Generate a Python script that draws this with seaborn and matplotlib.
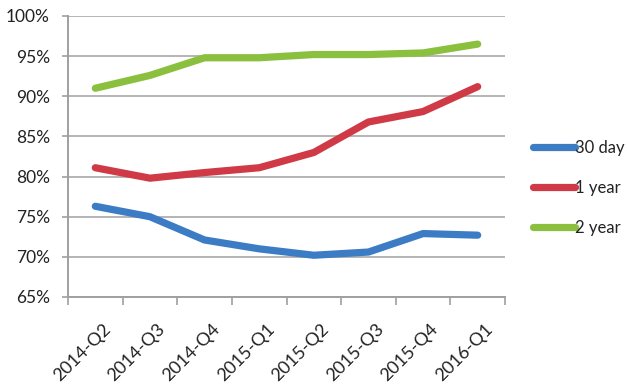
import matplotlib
matplotlib.use("Agg")
import matplotlib.pyplot as plt
import matplotlib.transforms as mtransforms
import seaborn as sns
import pandas as pd
import numpy as np

quarters = ["2014-Q2", "2014-Q3", "2014-Q4", "2015-Q1",
            "2015-Q2", "2015-Q3", "2015-Q4", "2016-Q1"]
day30 = [76.3, 75.0, 72.1, 71.0, 70.2, 70.6, 72.9, 72.7]
year1 = [81.1, 79.8, 80.5, 81.1, 83.0, 86.8, 88.1, 91.2]
year2 = [91.0, 92.6, 94.8, 94.8, 95.2, 95.2, 95.4, 96.5]
series_names = ["30 day", "1 year", "2 year"]
y_ticks = [65, 70, 75, 80, 85, 90, 95, 100]

colors = {"30 day": "#3b7cc4", "1 year": "#cf3a46", "2 year": "#8bbf3e"}

df = pd.DataFrame({
    "pos": list(range(len(quarters))) * 3,
    "value": day30 + year1 + year2,
    "series": np.repeat(series_names, len(quarters)),
})

sns.set_theme(style="white")
plt.rcParams["font.family"] = ["Lato", "DejaVu Sans"]

fig = plt.figure(figsize=(6.27, 3.84), dpi=100)
ax = fig.add_axes([68 / 627, 1 - 297 / 384, (505 - 68) / 627, (297 - 16) / 384])

sns.lineplot(data=df, x="pos", y="value", hue="series", palette=colors,
             hue_order=series_names, linewidth=5.2, ax=ax, legend=False,
             sort=False, solid_capstyle="round", solid_joinstyle="round")

ax.set_xlim(-0.5, len(quarters) - 0.5)
ax.set_ylim(65, 100)
ax.set_yticks(y_ticks)
ax.set_yticklabels([f"{t}%" for t in y_ticks])
ax.set_xticks(range(len(quarters)))
ax.set_xticklabels(quarters, rotation=45, ha="right", rotation_mode="anchor")
ax.set_xticks(np.arange(-0.5, len(quarters)), minor=True)
ax.tick_params(axis="x", which="major", length=0, pad=17)
ax.tick_params(axis="x", which="minor", length=6, width=1.2, color="#a0a0a0",
               direction="out", bottom=True)
ax.tick_params(axis="y", length=4, width=1.2, color="#a0a0a0", direction="out",
               left=True, pad=9)
ax.tick_params(labelsize=12.5, labelcolor="#222222")

# nudge the slanted quarter labels to the right of each category centre
shift = mtransforms.ScaledTranslation(7 / 100, 0, fig.dpi_scale_trans)
for lbl in ax.get_xticklabels():
    lbl.set_fontsize(13)
    lbl.set_transform(lbl.get_transform() + shift)
ax.set_xlabel("")
ax.set_ylabel("")

ax.yaxis.grid(True, color="#b4b4b4", linewidth=1.4)
ax.xaxis.grid(False)
ax.set_axisbelow(True)
for side in ["top", "right"]:
    ax.spines[side].set_visible(False)
for side in ["left", "bottom"]:
    ax.spines[side].set_color("#a0a0a0")
    ax.spines[side].set_linewidth(1.4)

handles = [plt.Line2D([], [], color=colors[n], linewidth=5.2,
                      solid_capstyle="round") for n in series_names]
fig.legend(handles, series_names, loc="center left",
           bbox_to_anchor=(533 / 627, 1 - 188 / 384), frameon=False,
           fontsize=12, handlelength=2.5, handletextpad=0.0,
           labelspacing=1.45, borderpad=0, borderaxespad=0,
           labelcolor="#222222")

fig.savefig("out.png", dpi=100)
